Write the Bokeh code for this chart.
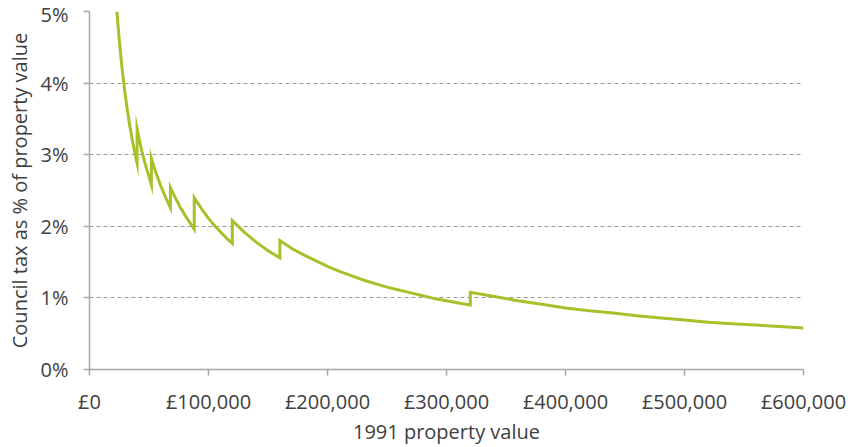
from bokeh.plotting import figure
from bokeh.embed import file_html
from bokeh.resources import INLINE
from bokeh.models import FixedTicker, CustomJSTickFormatter, Range1d

# 1991 property value (GBP) and council tax as % of property value
property_value = [
    23040, 24000, 25000, 26000, 27000, 28000, 30000, 32000, 34000, 36000, 38000, 40000,
    40000, 42000, 44000, 46000, 48000, 50000, 52000,
    52000, 54000, 56000, 58000, 60000, 62000, 64000, 66000, 68000,
    68000, 70000, 72000, 74000, 76000, 78000, 80000, 82000, 84000, 86000, 88000,
    88000, 92000, 96000, 100000, 104000, 108000, 112000, 116000, 120000,
    120000, 125000, 130000, 135000, 140000, 145000, 150000, 155000, 160000,
    160000, 170000, 180000, 190000, 200000, 210000, 220000, 230000, 240000, 250000,
    260000, 270000, 280000, 290000, 300000, 310000, 320000,
    320000, 340000, 360000, 380000, 400000, 420000, 440000, 460000, 480000, 500000,
    520000, 540000, 560000, 580000, 600000,
]
tax_share_pct = [
    5.00, 4.80, 4.61, 4.43, 4.27, 4.11, 3.84, 3.60, 3.39, 3.20, 3.03, 2.88,
    3.36, 3.20, 3.05, 2.92, 2.80, 2.69, 2.58,
    2.95, 2.84, 2.74, 2.65, 2.56, 2.48, 2.40, 2.33, 2.26,
    2.54, 2.47, 2.40, 2.34, 2.27, 2.22, 2.16, 2.11, 2.06, 2.01, 1.96,
    2.40, 2.30, 2.20, 2.11, 2.03, 1.96, 1.89, 1.82, 1.76,
    2.08, 2.00, 1.92, 1.85, 1.78, 1.72, 1.66, 1.61, 1.56,
    1.80, 1.69, 1.60, 1.52, 1.44, 1.37, 1.31, 1.25, 1.20, 1.15,
    1.11, 1.07, 1.03, 0.99, 0.96, 0.93, 0.90,
    1.08, 1.02, 0.96, 0.91, 0.86, 0.82, 0.79, 0.75, 0.72, 0.69,
    0.66, 0.64, 0.62, 0.60, 0.58,
]
x_ticks = [0, 100000, 200000, 300000, 400000, 500000, 600000]
y_ticks = [0, 1, 2, 3, 4, 5]

FONT = "Open Sans"
TXT = "#404040"
AX = "#a6a6a6"

p = figure(width=848, height=447, output_backend="svg", toolbar_location=None,
           x_range=Range1d(0, 600000), y_range=Range1d(0, 5),
           min_border_left=89, min_border_right=45, min_border_top=11, min_border_bottom=78)
p.outline_line_color = None

p.line(property_value, tax_share_pct, line_color="#aabf2a", line_width=3, line_join="miter")

p.xaxis.ticker = FixedTicker(ticks=x_ticks)
p.xaxis.formatter = CustomJSTickFormatter(code="return '£' + tick.toLocaleString('en-GB');")
p.yaxis.ticker = FixedTicker(ticks=y_ticks)
p.yaxis.formatter = CustomJSTickFormatter(code="return tick + '%';")

for ax in (p.xaxis[0], p.yaxis[0]):
    ax.axis_line_color = AX
    ax.axis_line_width = 1.5
    ax.major_tick_line_color = AX
    ax.major_tick_line_width = 1.5
    ax.major_tick_out = 6
    ax.major_tick_in = 0
    ax.minor_tick_line_color = None
    ax.major_label_text_font = FONT
    ax.major_label_text_font_size = "20px"
    ax.major_label_text_color = TXT
    ax.axis_label_text_font = FONT
    ax.axis_label_text_font_size = "20px"
    ax.axis_label_text_color = TXT
    ax.axis_label_text_font_style = "normal"

p.xaxis.axis_label = "1991 property value"
p.yaxis.axis_label = "Council tax as % of property value"
p.xaxis.major_label_standoff = 12
p.xaxis.axis_label_standoff = 0
p.yaxis.major_label_standoff = 15
p.yaxis.axis_label_standoff = 5

p.xgrid.grid_line_color = None
p.ygrid.ticker = FixedTicker(ticks=[1, 2, 3, 4, 5])
p.ygrid.grid_line_color = "#999999"
p.ygrid.grid_line_dash = "4 3"
p.ygrid.grid_line_width = 1

open("out.html", "w").write(file_html(p, INLINE))
